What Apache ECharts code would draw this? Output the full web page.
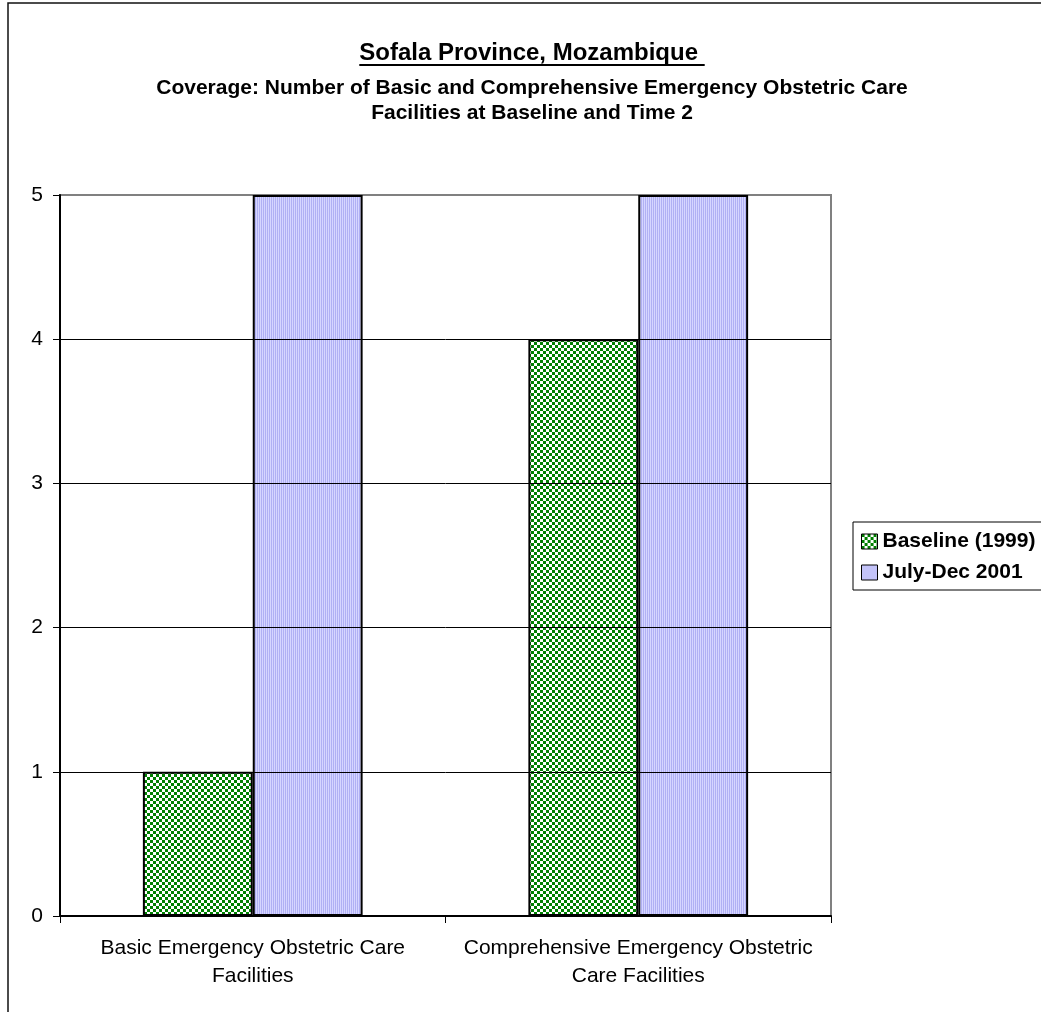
<!DOCTYPE html>
<html><head><meta charset="utf-8">
<script src="https://cdn.jsdelivr.net/npm/echarts@6/dist/echarts.min.js"></script>
<style>html,body{margin:0;padding:0;background:#fff}#c{width:1041px;height:1012px}</style>
</head><body><div id="c"></div>
<script>
const titleText = 'Sofala Province, Mozambique ';
const subtitleLines = ['Coverage: Number of Basic and Comprehensive Emergency Obstetric Care', 'Facilities at Baseline and Time 2'];
const categories = ['Basic Emergency Obstetric Care\nFacilities', 'Comprehensive Emergency Obstetric\nCare Facilities'];
const seriesNames = ['Baseline (1999)', 'July-Dec 2001'];
const baselineValues = [1, 4];
const julyDecValues = [5, 5];
const yTicks = [0, 1, 2, 3, 4, 5];

const FONT = '"Liberation Sans", Arial, sans-serif';

function checker() {
  const c = document.createElement('canvas'); c.width = 6; c.height = 6;
  const x = c.getContext('2d');
  x.fillStyle = '#ffffff'; x.fillRect(0, 0, 6, 6);
  x.fillStyle = '#008000'; x.fillRect(0, 0, 3, 3); x.fillRect(3, 3, 3, 3);
  return c;
}
function stripes() {
  const c = document.createElement('canvas'); c.width = 2; c.height = 4;
  const x = c.getContext('2d');
  x.fillStyle = '#d6d6ff'; x.fillRect(0, 0, 2, 4);
  x.fillStyle = '#b0b0f4'; x.fillRect(1, 0, 1, 4);
  return c;
}

const mctx = document.createElement('canvas').getContext('2d');
mctx.font = 'bold 24px ' + FONT;
const titleW = mctx.measureText(titleText).width;
const cx = 532;

const chart = echarts.init(document.getElementById('c'), null, {renderer: 'canvas'});
chart.setOption({
  animation: false,
  backgroundColor: '#ffffff',
  textStyle: {fontFamily: FONT, color: '#000'},
  graphic: [
    {type: 'rect', shape: {x: 8, y: 3, width: 1100, height: 1100}, style: {fill: 'none', stroke: '#111', lineWidth: 1.5}, z: -10, silent: true},
    {type: 'text', x: cx, y: 53, style: {text: titleText, font: 'bold 24px ' + FONT, fill: '#000', textAlign: 'center', textVerticalAlign: 'middle'}},
    {type: 'line', shape: {x1: cx - titleW / 2, y1: 65, x2: cx + titleW / 2, y2: 65}, style: {stroke: '#000', lineWidth: 2}},
    {type: 'text', x: cx, y: 88, style: {text: subtitleLines[0], font: 'bold 21px ' + FONT, fill: '#000', textAlign: 'center', textVerticalAlign: 'middle'}},
    {type: 'text', x: cx, y: 113, style: {text: subtitleLines[1], font: 'bold 21px ' + FONT, fill: '#000', textAlign: 'center', textVerticalAlign: 'middle'}}
  ],
  legend: {
    orient: 'vertical', left: 853, top: 522,
    padding: [9, 12, 7, 8],
    backgroundColor: '#fff', borderColor: '#000', borderWidth: 1,
    itemWidth: 16, itemHeight: 15, itemGap: 10, itemTextGap: 4,
    icon: 'rect',
    itemStyle: {borderColor: '#000', borderWidth: 1},
    textStyle: {fontFamily: FONT, fontSize: 21, fontWeight: 'bold', color: '#000'},
    data: seriesNames
  },
  grid: {left: 60, top: 195, width: 771, height: 721, show: true, borderColor: '#808080', borderWidth: 2, backgroundColor: 'transparent'},
  xAxis: {
    type: 'category', data: categories, z: 3,
    axisLine: {lineStyle: {color: '#000', width: 2}},
    axisTick: {show: true, length: 7, interval: 0, lineStyle: {color: '#000', width: 1}},
    axisLabel: {interval: 0, fontSize: 21, color: '#000', lineHeight: 28, margin: 18, fontFamily: FONT}
  },
  yAxis: {
    type: 'value', min: yTicks[0], max: yTicks[yTicks.length - 1], interval: yTicks[1] - yTicks[0], z: 3,
    axisLine: {show: true, lineStyle: {color: '#000', width: 2}},
    axisTick: {show: true, length: 7, lineStyle: {color: '#000', width: 1}},
    axisLabel: {fontSize: 21, color: '#000', margin: 17, fontFamily: FONT},
    splitLine: {show: true, showMinLine: false, showMaxLine: false, lineStyle: {color: '#000', width: 1}}
  },
  series: [
    {name: seriesNames[0], type: 'bar', data: baselineValues, barGap: '0%', barCategoryGap: '43%',
     itemStyle: {color: {image: checker(), repeat: 'repeat'}, borderColor: '#000', borderWidth: 2}},
    {name: seriesNames[1], type: 'bar', data: julyDecValues, barGap: '0%', barCategoryGap: '43%',
     itemStyle: {color: {image: stripes(), repeat: 'repeat'}, borderColor: '#000', borderWidth: 2}}
  ]
});
</script>
</body></html>
